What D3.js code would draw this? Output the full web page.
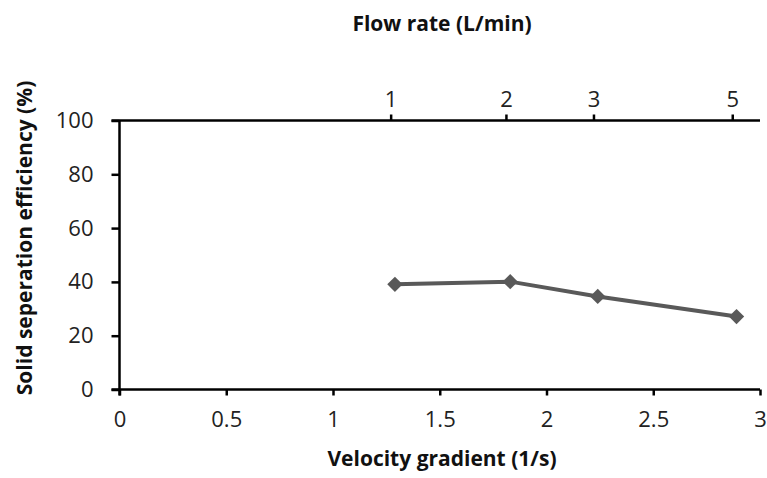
<!DOCTYPE html>
<html>
<head>
<meta charset="utf-8">
<script src="https://cdn.jsdelivr.net/npm/d3@7"></script>
<style>
  html, body { margin: 0; padding: 0; background: #fff; }
  svg { display: block; }
  .tick text { font-family: "Open Sans", "Liberation Sans", sans-serif; font-size: 22px; fill: #222; }
  .title { font-family: "Open Sans", "Liberation Sans", sans-serif; font-size: 21px; font-weight: 700; fill: #111; }
</style>
</head>
<body>
<svg id="chart" width="767" height="478"></svg>
<script>
// Velocity gradient (1/s) at each measured flow rate, and the separation efficiency (%)
const velocityGradient = [1.29, 1.83, 2.24, 2.89];
const efficiency = [39.1, 40.1, 34.6, 27.1];

// Secondary (top) axis: flow rates and where they fall on the velocity-gradient scale
const flowRates = [1, 2, 3, 5];
const flowRateGradient = [1.27, 1.81, 2.22, 2.87];

const xTicks = [0, 0.5, 1, 1.5, 2, 2.5, 3];
const yTicks = [0, 20, 40, 60, 80, 100];

const svg = d3.select("#chart");
const plotLeft = 119.5, plotRight = 760, plotTop = 120.5, plotBottom = 389.5;

const x = d3.scaleLinear().domain([0, 3]).range([plotLeft, plotRight]);
const y = d3.scaleLinear().domain([0, 100]).range([plotBottom, plotTop]);

// Bottom axis
const gx = svg.append("g").attr("transform", `translate(0,${plotBottom})`)
  .call(d3.axisBottom(x).tickValues(xTicks).tickFormat(d3.format("")).tickSize(6).tickSizeOuter(0));
gx.selectAll("text").attr("y", 22);

// Left axis
const gy = svg.append("g").attr("transform", `translate(${plotLeft},0)`)
  .call(d3.axisLeft(y).tickValues(yTicks).tickSize(8).tickSizeOuter(0));
gy.selectAll("text").attr("x", -26);

// Top axis (flow rate)
const gt = svg.append("g").attr("transform", `translate(0,${plotTop})`)
  .call(d3.axisTop(x).tickValues(flowRateGradient)
    .tickFormat((d, i) => flowRates[i]).tickSize(6).tickSizeOuter(0));
gt.selectAll("text").attr("y", -14);

// Extend horizontal axis lines slightly past the plot edges
[gx, gt].forEach(g => g.select(".domain").attr("d", `M${plotLeft - 8},0H${plotRight}`));
gy.select(".domain").attr("d", `M0,${plotTop}V${plotBottom + 6}`);

svg.selectAll(".domain, .tick line").attr("stroke", "#000").attr("stroke-width", 2.5);

// Series line
const pts = velocityGradient.map((v, i) => [v, efficiency[i]]);
svg.append("path")
  .datum(pts)
  .attr("fill", "none")
  .attr("stroke", "#595959")
  .attr("stroke-width", 4)
  .attr("d", d3.line().x(d => x(d[0])).y(d => y(d[1])));

// Diamond markers
svg.selectAll(".marker")
  .data(pts)
  .join("path")
  .attr("class", "marker")
  .attr("transform", d => `translate(${x(d[0])},${y(d[1])})`)
  .attr("d", d3.symbol().type(d3.symbolDiamond2).size(150))
  .attr("fill", "#595959");

// Axis titles
svg.append("text").attr("class", "title")
  .attr("x", 442).attr("y", 466).attr("text-anchor", "middle")
  .text("Velocity gradient (1/s)");

svg.append("text").attr("class", "title")
  .attr("x", 442).attr("y", 31).attr("text-anchor", "middle")
  .text("Flow rate (L/min)");

svg.append("text").attr("class", "title")
  .attr("transform", "translate(32,238) rotate(-90)")
  .attr("text-anchor", "middle")
  .text("Solid seperation efficiency (%)");
</script>
</body>
</html>
